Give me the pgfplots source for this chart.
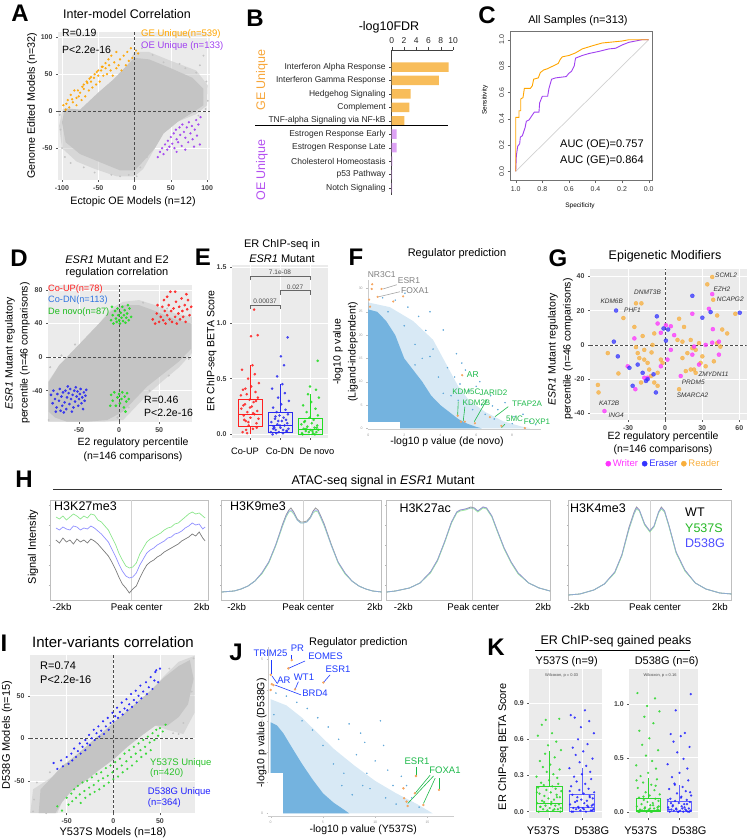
\documentclass[border=0pt]{standalone}
\usepackage{fontspec}
\setmainfont{Liberation Sans}
\usepackage{pgfplots}
\pgfplotsset{compat=1.18}
\usepackage{pgfplotstable}
\newcommand{\fs}[1]{\fontsize{#1}{#1}\selectfont}
\definecolor{ggbg}{HTML}{EBEBEB}
\definecolor{ptg}{HTML}{C4C4C4}
\definecolor{Aor}{HTML}{FFA500}
\definecolor{Apu}{HTML}{A040F0}
\definecolor{Bor}{HTML}{F8BD5A}
\definecolor{Bpu}{HTML}{DDA2F4}
\definecolor{Btor}{HTML}{F7A63A}
\definecolor{Btpu}{HTML}{B450F0}
\definecolor{Dred}{HTML}{FF2020}
\definecolor{Dblue}{HTML}{2B2BF0}
\definecolor{Dbluet}{HTML}{2F74E0}
\definecolor{Dgreen}{HTML}{22DD22}
\definecolor{Fblue}{HTML}{62A8D8}
\definecolor{Fbl}{HTML}{74B3DF}
\definecolor{Flab}{HTML}{1DB94A}
\definecolor{Gpink}{HTML}{FF33FF}
\definecolor{Gblue}{HTML}{3333FF}
\definecolor{Gor}{HTML}{F8AE3C}
\definecolor{Hgreen}{HTML}{8CE68C}
\definecolor{Hblue}{HTML}{9090FF}
\definecolor{Hgray}{HTML}{7A7A7A}
\definecolor{Iblue}{HTML}{1F1FFF}
\definecolor{Igreen}{HTML}{2ED82E}
\definecolor{Jblue}{HTML}{1F3BFF}
\definecolor{Jor}{HTML}{F4A460}

\pgfplotsset{
  /pgf/number format/assume math mode=true,
  gg/.style={scale only axis, anchor=south west, axis background/.style={fill=ggbg},
    axis line style={draw=none}, grid=major, grid style={white, line width=0.6pt},
    tick align=outside, major tick length=2pt, tick style={black!65, line width=0.4pt},
    tick pos=left, ticklabel style={font=\fs{7}\bfseries, text=black!75}},
  onedec/.style={#1 tick label style={/pgf/number format/fixed, /pgf/number format/fixed zerofill, /pgf/number format/precision=1}},
  hsub/.style={scale only axis, anchor=south west, height=100pt, ymin=0, ymax=100,
    axis line style={gray!50, line width=0.5pt}, xtick=\empty, ytick={15,35,55,75,95},
    yticklabels={}, tick style={gray!60, line width=0.3pt}, major tick length=1.5pt,
    tick align=outside, ytick pos=left},
  pt/.style n args={2}{only marks, mark=*, mark size=#2, color=#1, mark options={solid}},
  bx/.style={line width=0.6pt, mark=none},
}

\pgfplotstableread{
j r b g
-0.31 0.02 0.00 0.00
0.12 0.05 0.01 0.01
-0.05 0.08 0.02 0.02
0.27 0.10 0.03 0.02
-0.18 0.12 0.04 0.03
0.35 0.14 0.05 0.04
0.02 0.15 0.06 0.04
-0.26 0.17 0.07 0.05
0.19 0.18 0.08 0.06
-0.11 0.20 0.09 0.07
0.30 0.21 0.10 0.08
-0.36 0.23 0.11 0.09
0.07 0.25 0.12 0.10
-0.21 0.27 0.14 0.12
0.15 0.29 0.15 0.13
-0.02 0.31 0.17 0.15
0.33 0.33 0.18 0.17
-0.14 0.36 0.20 0.20
0.23 0.38 0.22 0.23
-0.29 0.40 0.24 0.26
0.05 0.43 0.27 0.29
0.37 0.46 0.30 0.33
-0.08 0.50 0.33 0.36
0.20 0.54 0.37 0.00
-0.33 0.58 0.41 0.01
0.10 0.62 0.45 0.03
-0.16 0.04 0.01 0.05
0.28 0.06 0.03 0.06
-0.24 0.13 0.06 0.11
0.00 0.24 0.08 0.43
0.25 0.30 0.13 0.40
-0.38 0.35 0.02 nan
0.13 0.19 0.04 nan
-0.07 0.11 0.12 nan
0.32 0.89 0.87 0.66
-0.19 0.41 0.16 nan
0.04 0.88 0.70 nan
-0.28 0.26 0.05 nan
0.17 1.12 0.62 nan
-0.12 0.01 0.52 nan
}\Etab

\pgfplotstableread{
j ag ab bg bb
-0.31 0.00 0.00 0.00 0.00
0.12 0.01 0.00 0.00 0.00
-0.05 0.01 0.01 0.00 0.00
0.27 0.02 0.01 0.01 0.00
-0.18 0.02 0.02 0.01 0.01
0.35 0.03 0.02 0.01 0.01
0.02 0.03 0.03 0.02 0.01
-0.26 0.04 0.03 0.02 0.02
0.19 0.05 0.04 0.03 0.02
-0.11 0.05 0.04 0.03 0.03
0.30 0.06 0.05 0.04 0.03
-0.36 0.07 0.06 0.05 0.04
0.07 0.08 0.07 0.06 0.05
-0.21 0.09 0.08 0.07 0.06
0.15 0.10 0.09 0.08 0.07
-0.02 0.11 0.10 0.09 0.08
0.33 0.12 0.11 0.10 0.09
-0.14 0.13 0.12 0.11 0.10
0.23 0.14 0.13 0.12 0.11
-0.29 0.15 0.14 0.13 0.12
0.05 0.16 0.15 0.15 0.13
0.37 0.17 0.16 0.16 0.15
-0.08 0.18 0.18 0.18 0.17
0.20 0.19 0.19 0.20 0.19
-0.33 0.20 0.21 0.22 0.21
0.10 0.21 0.23 0.25 0.23
-0.16 0.22 0.25 0.27 0.26
0.28 0.23 0.27 0.30 0.29
-0.24 0.24 0.29 0.33 0.32
0.00 0.26 0.31 0.36 0.36
0.25 0.28 0.33 0.40 0.40
-0.38 0.29 0.36 0.43 0.44
0.13 0.31 0.38 0.47 0.49
-0.07 0.33 0.41 0.52 0.55
0.32 0.35 0.44 0.57 0.60
-0.19 0.37 0.47 0.62 0.65
0.04 0.39 0.50 0.68 0.70
-0.28 0.42 0.53 0.75 0.72
0.17 0.45 0.56 0.82 0.73
-0.12 0.48 0.60 0.88 0.94
0.36 0.51 0.65 0.93 1.09
-0.03 0.55 0.70 0.98 0.00
0.22 0.58 0.75 1.05 0.01
-0.34 0.63 0.80 1.10 0.02
0.09 0.65 0.84 0.00 0.03
-0.22 0.72 0.78 0.01 0.05
0.31 0.77 0.01 0.02 0.00
-0.10 0.76 0.03 0.04 0.02
0.16 0.02 0.05 0.06 0.04
-0.27 0.04 0.00 0.00 0.08
0.06 0.06 0.02 0.03 0.14
0.34 0.00 0.06 0.05 0.18
-0.15 0.08 0.09 0.14 0.25
0.24 0.12 0.12 0.24 0.07
-0.37 0.16 0.17 0.29 0.11
}\Ktab

\pgfplotstableread{
x g b w
-2.15 83 72 60
-2.05 81 70 57
-1.95 84 73 62
-1.85 80 71 58
-1.75 83 70 60
-1.65 86 74 56
-1.55 84 73 61
-1.45 81 70 58
-1.35 84 72 60
-1.25 82 71 57
-1.15 86 74 61
-1.05 85 72 59
-0.95 80 69 56
-0.85 78 66 52
-0.75 74 62 48
-0.65 70 58 44
-0.55 63 51 38
-0.45 56 44 31
-0.35 47 36 23
-0.25 40 29 16
-0.15 34 24 12
-0.05 32 22 7
0.05 33 23 11
0.15 37 27 14
0.25 46 35 22
0.35 52 41 29
0.45 58 47 35
0.55 61 50 38
0.65 63 52 40
0.75 65 55 43
0.85 67 57 45
0.95 70 59 48
1.05 72 62 50
1.15 73 63 52
1.25 76 66 54
1.35 77 67 56
1.45 80 69 59
1.55 83 72 61
1.65 86 74 63
1.75 88 77 66
1.85 86 75 64
1.95 87 76 68
2.05 84 71 62
2.12 82 73 59
}\Hone

\pgfplotstableread{
x w g b
-2.36 8 8 8
-2.0 9 9 9
-1.8 11 11 11
-1.6 14 14 14
-1.4 19 19 19
-1.2 27 26 27
-1.0 38 37 38
-0.8 55 54 55
-0.6 76 74 75
-0.5 85 83 84
-0.42 90 88 89
-0.36 92 89 90
-0.28 88 86 87
-0.18 81 80 80
-0.08 78 77 77
0 78 77 77
0.1 79 78 78
0.2 83 82 82
0.28 89 87 88
0.35 92 89 90
0.42 90 88 89
0.5 84 82 83
0.6 76 74 75
0.8 56 55 55
1.0 38 37 38
1.2 27 26 27
1.4 19 19 19
1.6 14 14 14
1.8 11 11 11
2.0 9 9 9
2.26 8 8 8
}\Htwo

\pgfplotstableread{
x w g b
-2.45 8 8 8
-2.2 9 9 9
-1.8 12 12 12
-1.5 17 17 17
-1.2 28 27 28
-1.0 40 39 40
-0.8 58 57 58
-0.6 78 77 78
-0.45 88 87 88
-0.35 90 89 90
-0.2 91 90 91
-0.05 93 92 92
0.05 92 91 92
0.15 89 88 89
0.3 93 92 93
0.4 92 91 92
0.55 84 83 84
0.7 70 69 70
0.9 52 51 52
1.1 38 37 38
1.3 27 26 27
1.6 17 17 17
1.9 12 12 12
2.21 9 9 9
}\Hthree

\pgfplotstableread{
x w g b
-2.33 5 5 5
-2.0 6 6 6
-1.6 10 10 10
-1.3 16 16 16
-1.0 28 27 28
-0.8 45 44 45
-0.6 72 70 71
-0.45 88 86 87
-0.38 93 91 92
-0.3 90 89 90
-0.15 76 75 76
0 69 68 69
0.12 74 73 74
0.25 88 87 88
0.33 93 91 92
0.42 89 88 89
0.55 74 73 74
0.75 48 47 48
1.0 30 29 30
1.3 17 17 17
1.6 11 11 11
2.0 7 7 7
2.34 6 6 6
}\Hfour

\begin{document}
\begin{tikzpicture}[x=1pt,y=1pt]
\path[use as bounding box] (0,0) rectangle (749,840);

% ================= A =================
\begin{axis}[gg, at={(58pt,660pt)}, width=152pt, height=148pt,
  xmin=-105.5, xmax=104, ymin=-93, ymax=107, xtick={-100,-50,0,50,100}, ytick={-50,0,50,100}]
\addplot[fill=ptg, fill opacity=0.5, draw=none] coordinates {(-104,-20) (-99,3) (-75,2) (-50,25) (-30,42) (-10,62) (0,80) (20,80) (50,68) (85,55) (101,35) (100,8) (85,-4) (60,-14) (40,-30) (28,-50) (12,-78) (0,-88) (-25,-88) (-55,-78) (-80,-68) (-100,-50)};
\addplot[fill=ptg, draw=none] coordinates {(-100,-15) (-96,4) (-75,2) (-50,25) (-30,42) (-10,62) (0,72) (20,70) (50,58) (80,45) (95,30) (95,8) (80,-2) (60,-14) (40,-30) (28,-50) (10,-70) (0,-80) (-20,-80) (-50,-68) (-75,-58) (-95,-42)};
\addplot[pt={ptg}{0.7pt}] coordinates {(90,62) (95,75) (85,52) (70,58) (62,64) (93,18) (98,3) (-100,-50) (-96,-62) (-88,-70) (-70,-76) (-55,-83) (-32,-86) (-8,-86) (8,-76) (17,-62) (25,-47) (40,66) (25,76) (10,85) (-102,-25) (-103,-5) (99,40) (88,-6) (101,14) (3,-88) (-20,-88)};
\addplot[pt={Aor}{0.95pt}, opacity=0.85] coordinates {(-98,8) (-95,2) (-92,15) (-90,5) (-88,22) (-85,12) (-83,28) (-80,8) (-80,18) (-78,28) (-75,25) (-73,15) (-72,33) (-70,30) (-68,20) (-66,40) (-65,38) (-63,28) (-60,46) (-60,40) (-58,32) (-56,45) (-55,50) (-53,36) (-50,48) (-50,55) (-48,40) (-46,55) (-45,60) (-43,48) (-40,58) (-40,65) (-38,50) (-35,62) (-33,55) (-32,75) (-30,48) (-28,66) (-25,58) (-25,80) (-22,62) (-20,70) (-18,55) (-15,75) (-12,62) (-10,80) (-8,68) (-5,85) (-3,72) (2,82) (5,78) (-36,70) (-44,60) (-52,53) (-62,44) (-70,36) (-77,20) (-86,16) (-94,10)};
\addplot[pt={Apu}{0.95pt}, opacity=0.85] coordinates {(32,-62) (35,-55) (38,-50) (40,-58) (42,-45) (45,-52) (46,-40) (48,-48) (50,-35) (52,-44) (54,-30) (55,-50) (57,-25) (58,-38) (60,-42) (62,-22) (63,-32) (65,-47) (66,-18) (68,-28) (70,-36) (72,-22) (74,-42) (75,-15) (77,-30) (79,-20) (80,-38) (83,-25) (85,-12) (86,-33) (88,-18) (90,-45) (91,-8) (70,-52) (58,-55) (82,-48)};
\draw[densely dashed, black!70, line width=0.5pt] (axis cs:0,-93) -- (axis cs:0,107);
\draw[densely dashed, black!70, line width=0.5pt] (axis cs:-105.5,0) -- (axis cs:104,0);
\end{axis}
\node[font=\fs{24}\bfseries] at (20,827) {A};
\node[font=\fs{12.5}] at (127,826) {Inter-model Correlation};
\node[font=\fs{10.5}, anchor=west, inner sep=0pt] at (62,807) {R=0.19};
\node[font=\fs{10.5}, anchor=west, inner sep=0pt] at (62,790) {P<2.2e-16};
\node[font=\fs{9.5}, anchor=west, inner sep=0pt, text=Aor] at (141,806) {GE Unique(n=539)};
\node[font=\fs{9.5}, anchor=west, inner sep=0pt, text=Apu] at (141,794) {OE Unique (n=133)};
\node[font=\fs{10.7}, rotate=90] at (32,734) {Genome Edited Models (n=32)};
\node[font=\fs{10.7}] at (133,638) {Ectopic OE Models (n=12)};

% ================= B =================
\begin{axis}[scale only axis, anchor=south west, at={(391.7pt,645.3pt)}, width=61.3pt, height=144.7pt,
  xmin=0, xmax=10, ymin=-10.5, ymax=0.27, axis x line*=top, axis y line*=left,
  axis line style={black!75, line width=0.5pt}, xtick={0,2,4,6,8,10}, ytick={-10,-9,...,-1},
  yticklabels={Notch Signaling, p53 Pathway, Cholesterol Homeostasis, Estrogen Response Late, Estrogen Response Early, TNF-alpha Signaling via NF-kB, Complement, Hedgehog Signaling, Interferon Gamma Response, Interferon Alpha Response},
  tick align=outside, major tick length=2.5pt, tick style={black!75},
  ticklabel style={font=\fs{8.5}, text=black!85}]
\addplot[xbar, bar width=9.5pt, bar shift=0pt, fill=Bor, draw=none] coordinates {(9.3,-1) (7.7,-2) (3.1,-3) (2.9,-4) (2.05,-5)};
\addplot[xbar, bar width=9.5pt, bar shift=0pt, fill=Bpu, draw=none] coordinates {(0.8,-6) (0.8,-7) (0.1,-8) (0.05,-9) (0.05,-10)};
\end{axis}
\node[font=\fs{24}\bfseries] at (255,822) {B};
\node[font=\fs{12.5}] at (389,813) {-log10FDR};
\node[font=\fs{12.5}, rotate=90, text=Btor] at (262,760) {GE Unique};
\node[font=\fs{12.5}, rotate=90, text=Btpu] at (262,670) {OE Unique};
\draw[black, line width=0.8pt] (255,715) -- (448,715);

% ================= C =================
\begin{axis}[at={(510.7pt,660pt)}, anchor=south west, scale only axis, width=142pt, height=148.3pt,
  x dir=reverse, xmin=-0.03, xmax=1.0376, ymin=-0.066, ymax=1.061,
  xtick={0,0.2,0.4,0.6,0.8,1}, ytick={0,0.2,0.4,0.6,0.8,1}, tick pos=left, tick align=outside,
  major tick length=3pt, axis line style={black!55, line width=0.5pt}, tick style={black!60},
  ticklabel style={font=\fs{7}, text=black!80}, onedec=x, onedec=y,
  yticklabel style={rotate=90, anchor=south}]
\addplot[black!18, line width=0.7pt] coordinates {(1,0) (0,1)};
\addplot[Apu, line width=0.9pt] coordinates {(1,0) (0.995,0.12) (0.985,0.19) (0.97,0.21) (0.965,0.26) (0.95,0.27) (0.93,0.33) (0.92,0.38) (0.9,0.39) (0.88,0.42) (0.86,0.45) (0.825,0.45) (0.82,0.52) (0.8,0.57) (0.76,0.57) (0.75,0.63) (0.73,0.70) (0.7,0.71) (0.62,0.72) (0.6,0.745) (0.58,0.76) (0.56,0.80) (0.55,0.86) (0.5,0.88) (0.45,0.895) (0.38,0.91) (0.3,0.93) (0.25,0.935) (0.2,0.96) (0.15,0.98) (0.1,0.99) (0.05,1.0) (0,1.0)};
\addplot[Aor, line width=0.9pt] coordinates {(1,0) (1,0.41) (0.975,0.41) (0.975,0.46) (0.962,0.46) (0.962,0.55) (0.945,0.56) (0.935,0.63) (0.89,0.63) (0.875,0.65) (0.865,0.70) (0.83,0.71) (0.815,0.75) (0.79,0.77) (0.76,0.78) (0.72,0.80) (0.68,0.82) (0.665,0.85) (0.65,0.87) (0.6,0.88) (0.55,0.90) (0.5,0.93) (0.42,0.955) (0.35,0.975) (0.2,0.99) (0.15,1.0) (0,1)};
\end{axis}
\node[font=\fs{24}\bfseries] at (487,825) {C};
\node[font=\fs{11}] at (578,819) {All Samples (n=313)};
\node[font=\fs{11}, anchor=west, inner sep=0pt] at (560,695) {AUC (OE)=0.757};
\node[font=\fs{11}, anchor=west, inner sep=0pt] at (560,679) {AUC (GE)=0.864};
\node[font=\fs{6.5}] at (580,634) {Specificity};
\node[font=\fs{6.5}, rotate=90] at (485,740) {Sensitivity};

% ================= D =================
\begin{axis}[gg, at={(48pt,418.3pt)}, width=144pt, height=136.7pt,
  xmin=-88.75, xmax=91, ymin=-77, ymax=86, xtick={-50,0,50}, ytick={-40,0,40,80}]
\addplot[fill=ptg, fill opacity=0.5, draw=none] coordinates {(-89,-77) (-89,-30) (-75,-10) (-60,5) (-40,25) (-25,40) (-10,58) (5,66) (25,68) (45,62) (70,52) (91,48) (91,5) (75,-12) (55,-28) (35,-45) (20,-60) (5,-75) (-20,-77)};
\addplot[fill=ptg, draw=none] coordinates {(-88,-65) (-88,-30) (-75,-10) (-60,5) (-40,25) (-25,40) (-10,55) (5,62) (25,62) (45,55) (70,45) (90,40) (90,10) (75,-5) (55,-20) (35,-35) (20,-50) (5,-65) (-15,-75) (-40,-77) (-65,-77) (-80,-72)};
\addplot[pt={ptg}{0.8pt}] coordinates {(-88,-75) (-86,-12) (-72,2) (-55,15) (88,50) (87,-2) (62,-22) (38,-40) (12,-60) (-2,-72) (-28,-80) (-50,-80) (60,58) (30,65) (75,30) (-80,-40)};
\addplot[pt={Dred}{1.15pt}, opacity=0.85] coordinates {(42,45) (45,40) (47,52) (50,42) (52,48) (54,60) (55,44) (57,55) (58,40) (60,50) (62,62) (63,45) (65,55) (66,42) (68,58) (70,48) (71,66) (72,40) (74,52) (75,60) (76,45) (78,70) (79,55) (80,48) (82,62) (83,42) (85,57) (86,68) (88,50) (84,75) (70,78) (64,78) (56,68) (48,62) (90,60) (60,72)};
\addplot[pt={Dblue}{1.15pt}, opacity=0.85] coordinates {(-85,-45) (-83,-55) (-82,-40) (-80,-50) (-78,-60) (-77,-44) (-75,-52) (-74,-38) (-72,-47) (-71,-58) (-70,-42) (-68,-54) (-67,-40) (-66,-62) (-65,-48) (-63,-43) (-62,-56) (-61,-38) (-60,-50) (-58,-45) (-57,-60) (-56,-40) (-55,-53) (-53,-47) (-52,-41) (-51,-58) (-50,-50) (-49,-44) (-48,-38) (-47,-55) (-46,-48) (-45,-62) (-44,-42) (-43,-52) (-42,-46) (-41,-39) (-79,-65) (-69,-66) (-59,-65) (-64,-35) (-54,-36) (-73,-64)};
\addplot[pt={Dgreen}{1.15pt}, opacity=0.85] coordinates {(-10,44) (-8,50) (-7,40) (-5,55) (-4,46) (-3,42) (-2,58) (-1,50) (0,44) (1,40) (2,53) (3,47) (4,60) (5,43) (6,50) (7,56) (8,41) (9,47) (10,52) (12,44) (13,58) (15,48) (11,62) (-9,60) (-10,-45) (-8,-52) (-6,-42) (-4,-58) (-2,-48) (0,-44) (1,-55) (3,-50) (4,-42) (6,-60) (7,-47) (9,-53) (10,-43) (12,-50) (-11,-58) (8,-65)};
\draw[densely dashed, black!70, line width=0.5pt] (axis cs:0,-77) -- (axis cs:0,86);
\draw[densely dashed, black!70, line width=0.5pt] (axis cs:-88.75,0) -- (axis cs:91,0);
\end{axis}
\node[font=\fs{24}\bfseries] at (19,582) {D};
\node[font=\fs{11}] at (117,580) {\textit{ESR1} Mutant and E2};
\node[font=\fs{11}] at (117,567) {regulation correlation};
\node[font=\fs{9.2}, anchor=west, inner sep=0pt, text=Dred] at (48,551) {Co-UP(n=78)};
\node[font=\fs{9.2}, anchor=west, inner sep=0pt, text=Dbluet] at (48,540) {Co-DN(n=113)};
\node[font=\fs{9.2}, anchor=west, inner sep=0pt, text=Dgreen!85!black] at (48,528) {De novo(n=87)};
\node[font=\fs{10.5}, anchor=west, inner sep=0pt] at (144,440) {R=0.46};
\node[font=\fs{10.5}, anchor=west, inner sep=0pt] at (144,427) {P<2.2e-16};
\node[font=\fs{10.5}, rotate=90] at (10,487) {\textit{ESR1} Mutant regulatory};
\node[font=\fs{10.5}, rotate=90] at (25,487) {percentile (n=46 comparisons)};
\node[font=\fs{10.5}] at (133,397.3) {E2 regulatory percentile};
\node[font=\fs{10.5}] at (133,383.3) {(n=146 comparisons)};

% ================= E =================
\begin{axis}[gg, at={(232pt,402.3pt)}, width=96pt, height=172.7pt,
  xmin=0.4, xmax=3.6, ymin=-0.03, ymax=1.52, xtick={1,2,3}, xticklabels={}, ytick={0,0.5,1,1.5}, onedec=y]
\addplot[pt={Dred}{1.1pt}, opacity=0.8] table[x expr=\thisrow{j}*0.8+1, y=r] {\Etab};
\addplot[pt={Dblue}{1.1pt}, opacity=0.8] table[x expr=\thisrow{j}*0.8+2, y=b] {\Etab};
\addplot[pt={Dgreen}{1.1pt}, opacity=0.8] table[x expr=\thisrow{j}*0.8+3, y=g] {\Etab};
\addplot[bx, Dred] coordinates {(0.6,0.068) (1.4,0.068) (1.4,0.316) (0.6,0.316) (0.6,0.068)};
\addplot[bx, Dred] coordinates {(0.6,0.18) (1.4,0.18)};
\addplot[bx, Dred] coordinates {(1,0.316) (1,0.62)};
\addplot[bx, Dred] coordinates {(1,0.068) (1,0)};
\addplot[bx, Dblue] coordinates {(1.6,0.015) (2.4,0.015) (2.4,0.2) (1.6,0.2) (1.6,0.015)};
\addplot[bx, Dblue] coordinates {(1.6,0.083) (2.4,0.083)};
\addplot[bx, Dblue] coordinates {(2,0.2) (2,0.45)};
\addplot[bx, Dgreen] coordinates {(2.6,0) (3.4,0) (3.4,0.143) (2.6,0.143) (2.6,0)};
\addplot[bx, Dgreen] coordinates {(2.6,0.045) (3.4,0.045)};
\addplot[bx, Dgreen] coordinates {(3,0.143) (3,0.36)};
\draw[black!60, line width=0.5pt] (axis cs:1,1.385) -- (axis cs:1,1.42) -- (axis cs:3,1.42) -- (axis cs:3,1.385);
\node[font=\fs{6.5}, text=black!70, anchor=south, inner sep=1pt] at (axis cs:2,1.42) {7.1e-08};
\draw[black!60, line width=0.5pt] (axis cs:2,1.255) -- (axis cs:2,1.29) -- (axis cs:3,1.29) -- (axis cs:3,1.255);
\node[font=\fs{6.5}, text=black!70, anchor=south, inner sep=1pt] at (axis cs:2.5,1.29) {0.027};
\draw[black!60, line width=0.5pt] (axis cs:1,1.125) -- (axis cs:1,1.16) -- (axis cs:2,1.16) -- (axis cs:2,1.125);
\node[font=\fs{6.5}, text=black!70, anchor=south, inner sep=1pt] at (axis cs:1.5,1.16) {0.00037};
\end{axis}
\node[font=\fs{24}\bfseries] at (203,582.5) {E};
\node[font=\fs{11}] at (282,595) {ER ChIP-seq in};
\node[font=\fs{11}] at (282,581.7) {\textit{ESR1} Mutant};
\node[font=\fs{10.5}, rotate=90] at (211.7,489) {ER ChIP-seq BETA Score};
\node[font=\fs{9.3}] at (245,389) {Co-UP};
\node[font=\fs{9.3}] at (280,389) {Co-DN};
\node[font=\fs{9.3}] at (317,389) {De novo};

% ================= F =================
\begin{axis}[scale only axis, anchor=south west, at={(367.7pt,411pt)}, width=173.3pt, height=148.9pt,
  xmin=-0.03, xmax=9.6, ymin=-0.15, ymax=31.8, axis lines*=left, axis line style={gray!40},
  xtick={0,2,4,6,8}, ytick={0,5,10,15,20,25,30}, tick style={gray!50}, major tick length=1.5pt,
  tick align=outside, ticklabel style={font=\fs{3.5}, text=gray!80}]
\addplot[fill=Fblue, fill opacity=0.25, draw=none] coordinates {(0,27) (1.2,26) (2.5,23) (3.6,19) (4.3,14) (5,9) (5.6,6) (6.5,3.5) (7.5,1.5) (8.5,0.4) (9,0) (0,0)};
\addplot[fill=Fbl, draw=none] coordinates {(0,0) (0,25.5) (0.5,25) (1.0,23) (1.5,20) (2.0,15) (3.0,10) (3.5,7) (4.0,5) (4.5,3.5) (5.0,2) (5.5,1) (6,0.3) (6.3,0)};
\addplot[fill=white, draw=none] coordinates {(-0.03,-0.15) (1.76,-0.15) (1.76,1.3) (-0.03,1.3)};
\addplot[pt={Fblue}{0.55pt}] coordinates {(2.04,29) (3.43,25) (4.17,21.1) (3.43,15.4) (2.6,13.6) (4.17,7.5) (3.2,21) (3.6,17) (4.4,13) (4.8,11) (5.2,14) (5.6,8) (6.0,9) (6.3,5) (6.8,7) (7.2,4) (7.6,5.5) (8.1,2.5) (8.6,3) (9.0,1.5) (2.8,24) (2.2,26) (1.5,27.5) (0.8,28) (5.0,6) (5.8,4) (4.6,7) (3.9,11) (7.0,2) (8.0,1) (3.0,15) (2.6,18) (6.5,3) (9.3,0.8) (4.9,16) (5.4,12.5) (6.2,10) (2.0,22) (1.1,25) (5.1,9.5) (6.9,4.8)};
\addplot[pt={Jor}{0.9pt}] coordinates {(0.1,26.1) (0.05,27.6) (0.19,29.9) (0.22,30.9) (0.74,29.9) (0.52,28.2) (1.39,27.2) (1.94,28.3) (5.22,11.4) (4.97,2.7) (5.15,1.42) (5.37,1.42) (5.93,1.07) (6.76,2.4) (7.4,0.5) (8.7,0.05)};
\draw[gray!70, line width=0.6pt] (axis cs:0.83,29.9) -- (axis cs:1.58,30.8);
\draw[gray!70, line width=0.6pt] (axis cs:0.56,28.2) -- (axis cs:1.76,29.3);
\draw[Flab, line width=0.6pt] (axis cs:5.0,5.71) -- (axis cs:4.97,2.85);
\draw[Flab, line width=0.6pt] (axis cs:5.37,4.64) -- (axis cs:5.28,1.57);
\draw[Flab, line width=0.6pt] (axis cs:6.58,6.07) -- (axis cs:5.89,1.42);
\draw[Flab, line width=0.6pt] (axis cs:7.78,4.64) -- (axis cs:7.04,2.49);
\draw[Flab, line width=0.6pt] (axis cs:7.59,0.86) -- (axis cs:7.41,0.13);
\end{axis}
\node[font=\fs{24}\bfseries] at (356,582.5) {F};
\node[font=\fs{11}] at (457,586.7) {Regulator prediction};
\node[font=\fs{8.5}, text=gray] at (381.7,565) {NR3C1};
\node[font=\fs{8.5}, text=gray] at (409,559.3) {ESR1};
\node[font=\fs{8.5}, text=gray] at (415,549.3) {FOXA1};
\node[font=\fs{8.5}, text=Flab, anchor=west, inner sep=0pt] at (466.7,465.7) {AR};
\begin{scope}[font=\fs{8}, text=Flab, inner sep=0pt]
\node at (466.3,448.6) {KDM5C};
\node at (493.5,447) {JARID2};
\node at (476.5,437.5) {KDM2B};
\node at (527,436.7) {TFAP2A};
\node at (514.5,421.7) {5MC};
\node at (537,418.3) {FOXP1};
\end{scope}
\node[font=\fs{10.5}, rotate=90] at (338,488) {-log10 p value};
\node[font=\fs{10.5}, rotate=90] at (353,488) {(Ligand-independent)};
\node[font=\fs{10.5}] at (447,398.3) {-log10 p value (de novo)};

% ================= G =================
\begin{axis}[gg, at={(590pt,420pt)}, width=156.7pt, height=150.7pt,
  xmin=-60.8, xmax=66, ymin=-43.9, ymax=44.2, xtick={-30,0,30,60}, ytick={-40,-20,0,20,40},
  legend columns=3, legend cell align=left,
  legend style={at={(axis description cs:0.47,-0.29)}, anchor=center, draw=none, fill=none, font=\fs{9.5}, inner sep=0pt, /tikz/every even column/.append style={column sep=2pt}}]
\addlegendimage{only marks, mark=*, mark size=2.6pt, color=Gpink}
\addlegendentry{\textcolor{Gpink}{Writer}}
\addlegendimage{only marks, mark=*, mark size=2.6pt, color=Gblue}
\addlegendentry{\textcolor{Gblue}{Eraser}}
\addlegendimage{only marks, mark=*, mark size=2.6pt, color=Gor}
\addlegendentry{\textcolor{Gor}{Reader}}
\addplot[forget plot, pt={Gor}{2pt}, opacity=0.75] coordinates {(38.1,39.7) (34.1,35.4) (38.9,26.4) (-23.6,24.3) (-19.2,24.3) (-33.8,15.7) (42.1,17.2) (56.8,18.2) (11.3,15.3) (15.3,10.5) (46.2,9.0) (50.2,6.7) (-24.9,10.5) (-18.2,5.2) (-8.8,6.7) (-46.4,-4.8) (-37.8,-16.7) (-54.4,-23.4) (-53.9,-27.8) (-23.6,-1.3) (-22.2,-4.8) (-20.9,-7.7) (-16.9,-8.6) (-14.2,-10.5) (-12.9,-14.4) (-11.5,-18.2) (-8.8,-22.0) (-6.1,-23.9) (-6.1,-16.3) (-3.5,-8.6) (-2.1,-10.5) (-11.0,-4.4) (10.0,2.9) (14.0,1.9) (20.7,2.9) (22.0,-1.9) (24.7,-2.9) (27.4,1.0) (30.1,-6.7) (14.0,-7.7) (18.0,-4.8) (28.7,-10.5) (32.8,-12.5) (23.4,-14.4) (16.7,-15.3) (20.7,-14.4) (42.1,1.0) (44.7,-1.0) (39.4,-9.6) (24.7,-16.3) (11.3,-25.9) (-19.5,-22.0) (-10.2,0) (-16.9,-2.9)};
\addplot[forget plot, pt={Gpink}{2pt}, opacity=0.75] coordinates {(38.1,29.7) (35.4,21.1) (22.0,18.2) (38.6,9.2) (43.5,1.9) (38.1,1.3) (-6.1,12.5) (0.6,11.5) (-3.5,7.1) (4.6,10.9) (-24.9,3.8) (-16.9,-19.2) (-3.5,-12.5) (1.9,-8.6) (4.6,-2.9) (23.4,-1.0) (22.0,-5.7) (43.5,-5.7) (32.8,0) (12.6,-18.2) (-24.1,-25.9) (-30.3,-12.5) (-14.2,-19.2) (27.4,-11.5) (7.3,5.7) (-49.1,-38.7)};
\addplot[forget plot, pt={Gblue}{2pt}, opacity=0.75] coordinates {(22.0,28.7) (-39.7,20.1) (-6.7,16.7) (30.1,15.9) (36.8,19.2) (60.4,18.8) (-1.3,9.6) (2.4,9.0) (0.6,2.5) (-41.5,1.9) (-38.3,-6.7) (-28.9,-13.4) (-22.2,-11.5) (-18.2,-16.3) (-14.2,-20.1) (-9.4,-17.2) (-15.5,-21.1) (-26.3,-23.9) (-7.5,-27.8)};
\draw[densely dashed, black!70, line width=0.5pt] (axis cs:0,-43.9) -- (axis cs:0,44.2);
\draw[densely dashed, black!70, line width=0.5pt] (axis cs:-60.8,0) -- (axis cs:66,0);
\end{axis}
\node[font=\fs{24}\bfseries] at (558,582) {G};
\node[font=\fs{12.5}] at (665,584) {Epigenetic Modifiers};
\node[font=\fs{10.5}, rotate=90] at (553,491) {\textit{ESR1} Mutant regulatory};
\node[font=\fs{10.5}, rotate=90] at (568,491) {percentile (n=46 comparisons)};
\node[font=\fs{10.5}] at (663,403.3) {E2 regulatory percentile};
\node[font=\fs{10.5}] at (663,390) {(n=146 comparisons)};
\begin{scope}[font=\fs{6.5}\itshape, text=black!80, inner sep=0pt]
\node[anchor=west] at (715,565) {SCML2};
\node[anchor=west] at (713.3,551) {EZH2};
\node[anchor=west] at (716.7,540.7) {NCAPG2};
\node at (647.5,547.3) {DNMT3B};
\node at (611.7,538.3) {KDM6B};
\node at (632.5,530) {PHF1};
\node[anchor=west] at (698.3,466) {ZMYDN11};
\node[anchor=west] at (681.7,457.7) {PRDM5};
\node[anchor=west] at (676.7,444.3) {SMARCA2};
\node at (609.2,436.7) {KAT2B};
\node[anchor=west] at (608.3,424.3) {ING4};
\end{scope}

% ================= H =================
\node[font=\fs{24}\bfseries] at (24,361) {H};
\node[font=\fs{12.5}] at (383,358.3) {ATAC-seq signal in \textit{ESR1} Mutant};
\draw[black!80, line width=0.8pt] (53,351) -- (721.7,351);
\begin{axis}[hsub, at={(50pt,240pt)}, width=158.3pt, xmin=-2.32, xmax=2.21]
\draw[gray!35, line width=0.4pt] (axis cs:0,0) -- (axis cs:0,100);
\addplot[Hgreen, line width=0.7pt] table[x=x, y=g] {\Hone};
\addplot[Hblue, line width=0.7pt] table[x=x, y=b] {\Hone};
\addplot[Hgray, line width=0.7pt] table[x=x, y=w] {\Hone};
\end{axis}
\begin{axis}[hsub, at={(221.7pt,240pt)}, width=160pt, xmin=-2.36, xmax=2.26]
\draw[gray!35, line width=0.4pt] (axis cs:0,0) -- (axis cs:0,100);
\addplot[Hgray!80, line width=0.8pt] table[x=x, y=w] {\Htwo};
\addplot[Hgreen, line width=0.8pt, opacity=0.8] table[x=x, y=g] {\Htwo};
\addplot[Hblue, line width=0.8pt, opacity=0.6] table[x=x, y=b] {\Htwo};
\end{axis}
\begin{axis}[hsub, at={(386.7pt,240pt)}, width=163.3pt, xmin=-2.45, xmax=2.21]
\draw[gray!35, line width=0.4pt] (axis cs:0,0) -- (axis cs:0,100);
\addplot[Hgray!80, line width=0.8pt] table[x=x, y=w] {\Hthree};
\addplot[Hgreen, line width=0.8pt, opacity=0.8] table[x=x, y=g] {\Hthree};
\addplot[Hblue, line width=0.8pt, opacity=0.6] table[x=x, y=b] {\Hthree};
\end{axis}
\begin{axis}[hsub, at={(568.3pt,240pt)}, width=163.4pt, xmin=-2.33, xmax=2.34]
\draw[gray!35, line width=0.4pt] (axis cs:0,0) -- (axis cs:0,100);
\addplot[Hgray!80, line width=0.8pt] table[x=x, y=w] {\Hfour};
\addplot[Hgreen, line width=0.8pt, opacity=0.8] table[x=x, y=g] {\Hfour};
\addplot[Hblue, line width=0.8pt, opacity=0.6] table[x=x, y=b] {\Hfour};
\end{axis}
\begin{scope}[font=\fs{12.5}, inner sep=0pt]
\node[anchor=west] at (54,333.3) {H3K27me3};
\node[anchor=west] at (230,333.3) {H3K9me3};
\node[anchor=west] at (399.3,331.7) {H3K27ac};
\node[anchor=west] at (570,331.7) {H3K4me3};
\node[anchor=west] at (685,327.7) {WT};
\node[anchor=west, text=Igreen!85!black] at (685,311.7) {Y537S};
\node[anchor=west, text=Iblue!80] at (685,296.7) {D538G};
\end{scope}
\begin{scope}[font=\fs{9.7}]
\node at (62,232.7) {-2kb}; \node at (136.7,232.7) {Peak center}; \node at (201.7,232.7) {2kb};
\node at (236.7,232.7) {-2kb}; \node at (308.3,232.7) {Peak center}; \node at (375,232.7) {2kb};
\node at (403.3,232.7) {-2kb}; \node at (473.3,232.7) {Peak center}; \node at (543.3,232.7) {2kb};
\node at (580,232.7) {-2kb}; \node at (655,232.7) {Peak center}; \node at (720,232.7) {2kb};
\end{scope}
\node[font=\fs{11}, rotate=90] at (33,293) {Signal Intensity};

% ================= I =================
\begin{axis}[gg, at={(30pt,26.7pt)}, width=165pt, height=158.3pt,
  xmin=-89.3, xmax=87.5, ymin=-88.2, ymax=98, xtick={-50,0,50}, ytick={-50,0,50}]
\addplot[fill=ptg, fill opacity=0.5, draw=none] coordinates {(-89,-88) (-86,-60) (-65,-45) (-55,-33) (-40,-20) (-20,-1) (0,18) (20,37) (40,56) (55,74) (70,90) (87,97) (87,30) (75,5) (58,10) (45,15) (30,3) (15,-10) (0,-25) (-15,-37) (-30,-50) (-45,-62) (-55,-75) (-60,-88)};
\addplot[fill=ptg, draw=none] coordinates {(-80,-88) (-78,-60) (-65,-45) (-55,-33) (-40,-20) (-20,-1) (0,18) (20,37) (40,56) (55,72) (70,85) (82,92) (86,70) (80,40) (70,25) (58,15) (45,15) (30,3) (15,-10) (0,-25) (-15,-37) (-30,-50) (-45,-62) (-55,-75) (-62,-88)};
\addplot[pt={ptg}{0.7pt}] coordinates {(70,5) (75,18) (84,55) (86,94) (64,6) (-85,-72) (-82,-52) (-72,-88) (-86,-86) (78,62) (60,82) (-68,-40)};
\addplot[pt={Iblue}{0.9pt}, opacity=0.85] coordinates {(-64,-29) (-60,-36) (-56,-26) (-54,-33) (-50,-22) (-48,-30) (-45,-18) (-44,-26) (-42,-12) (-40,-22) (-38,-15) (-36,-6) (-35,-18) (-33,-10) (-30,-2) (-30,-14) (-28,-6) (-26,4) (-25,-8) (-23,0) (-21,10) (-20,-2) (-18,6) (-16,14) (-15,2) (-13,9) (-11,20) (-10,5) (-8,14) (-6,24) (-5,10) (-3,18) (-1,30) (0,20) (2,26) (4,36) (5,24) (7,31) (9,42) (10,28) (12,35) (14,46) (15,33) (17,40) (19,52) (20,37) (22,45) (24,56) (25,42) (27,50) (29,62) (30,47) (32,55) (35,66) (36,52) (38,60) (40,72) (42,58) (44,68) (46,80) (48,66) (50,82) (45,78)};
\addplot[pt={Igreen}{0.9pt}, opacity=0.85] coordinates {(-50,-70) (-48,-78) (-45,-65) (-44,-74) (-42,-60) (-40,-70) (-38,-56) (-36,-66) (-35,-76) (-33,-52) (-31,-62) (-30,-70) (-28,-50) (-26,-58) (-25,-66) (-23,-46) (-21,-55) (-20,-63) (-18,-42) (-16,-50) (-15,-60) (-13,-40) (-11,-47) (-10,-56) (-8,-35) (-6,-44) (-5,-52) (-3,-32) (-1,-40) (0,-48) (2,-28) (4,-36) (5,-45) (7,-24) (9,-32) (10,-40) (12,-18) (14,-27) (15,-36) (17,-14) (19,-22) (20,-32) (22,-10) (24,-18) (25,-27) (27,-6) (29,-14) (30,-22) (32,-2) (34,-10) (35,-18) (37,2) (39,-5) (40,-14) (42,6) (44,-2) (46,10) (48,3) (50,12) (53,8) (56,16) (-60,-80) (-55,-85)};
\draw[densely dashed, black!70, line width=0.5pt] (axis cs:0,-88.2) -- (axis cs:0,98);
\draw[densely dashed, black!70, line width=0.5pt] (axis cs:-89.3,0) -- (axis cs:87.5,0);
\end{axis}
\node[font=\fs{24}\bfseries] at (4,197) {I};
\node[font=\fs{15}] at (113,198.3) {Inter-variants correlation};
\node[font=\fs{11}, anchor=west, inner sep=0pt] at (40,174) {R=0.74};
\node[font=\fs{11}, anchor=west, inner sep=0pt] at (40,160.7) {P<2.2e-16};
\node[font=\fs{9.5}, anchor=west, inner sep=0pt, text=Igreen!90!black] at (150,77.3) {Y537S Unique};
\node[font=\fs{9.5}, anchor=west, inner sep=0pt, text=Igreen!90!black] at (150,66.7) {(n=420)};
\node[font=\fs{9.5}, anchor=west, inner sep=0pt, text=Iblue] at (147.7,48) {D538G Unique};
\node[font=\fs{9.5}, anchor=west, inner sep=0pt, text=Iblue] at (147.7,36.7) {(n=364)};
\node[font=\fs{11}, rotate=90] at (7,105) {D538G Models (n=15)};
\node[font=\fs{11}] at (113,7) {Y537S Models (n=18)};

% ================= J =================
\begin{axis}[scale only axis, anchor=south west, at={(268.1pt,23.6pt)}, width=185.5pt, height=169.6pt,
  xmin=-0.25, xmax=17.5, ymin=-0.1, ymax=5.4, axis lines*=left, axis line style={gray!40},
  xtick={0,5,10,15}, ytick={0,1,2,3,4,5}, tick style={gray!50}, major tick length=1.5pt,
  tick align=outside, ticklabel style={font=\fs{3.5}, text=gray!80}]
\addplot[fill=Fblue, fill opacity=0.25, draw=none] coordinates {(0,3.7) (1.5,3.5) (3,3.1) (4.5,2.6) (6,2.1) (8,1.55) (10,1.05) (12,0.65) (14,0.3) (15.5,0) (0,0)};
\addplot[fill=Fbl, draw=none] coordinates {(0,0) (0,2.95) (0.6,2.85) (1.2,2.6) (2,2.15) (3,1.6) (4,1.1) (5,0.65) (6,0.35) (7,0.12) (7.5,0)};
\addplot[fill=white, draw=none] coordinates {(-0.25,-0.1) (1.2,-0.1) (1.2,1.3) (-0.25,1.3)};
\addplot[pt={Fblue}{0.55pt}] coordinates {(7.5,2.9) (9.0,2.3) (10.5,3.0) (11.2,1.4) (8.2,1.9) (6.5,2.4) (5.5,2.8) (4.5,3.1) (12.5,1.2) (13.5,0.5) (7.0,1.3) (9.5,0.8) (11.0,0.5) (10.0,1.7) (8.8,0.9) (3.5,3.4) (2.5,3.6) (6.0,1.6) (12.0,0.3) (14.2,0.2) (5.0,2.2) (7.8,0.6) (9.2,1.3) (4.0,2.7) (3.0,3.0) (1.5,3.8) (0.5,3.9) (0.3,3.2) (11.7,0.9) (13.0,0.9) (10.8,2.2) (6.8,0.9) (8.6,2.6)};
\addplot[pt={Jor}{1pt}] coordinates {(0,4.49) (0.1,4.19) (0.26,4.16) (2.01,4.97) (1.69,4.70) (2.33,4.02) (5.04,4.24) (0,4.0) (13.9,1.21) (13.8,0.65) (13.0,0.38) (12.77,0.49) (13.1,0.24) (14.6,0.27) (16.1,0.76) (12.7,0.81)};
\draw[Jblue, line width=0.6pt] (axis cs:0.1,4.97) -- (axis cs:0.1,4.52);
\draw[Jblue, line width=0.6pt] (axis cs:0.13,4.45) -- (axis cs:0.65,4.2);
\draw[Jblue, line width=0.6pt] (axis cs:0.41,4.16) -- (axis cs:2.9,3.84);
\draw[Jblue, line width=0.6pt] (axis cs:2.33,4.02) -- (axis cs:2.65,4.27);
\draw[Jblue, line width=0.6pt] (axis cs:1.69,4.7) -- (axis cs:3.29,4.94);
\draw[Jblue, line width=0.6pt] (axis cs:2.01,4.97) -- (axis cs:2.01,5.14);
\draw[Jblue, line width=0.6pt] (axis cs:5.04,4.24) -- (axis cs:5.68,4.49);
\draw[Flab, line width=0.6pt] (axis cs:13.92,1.51) -- (axis cs:13.92,1.21);
\draw[Flab, line width=0.6pt] (axis cs:15.58,1.21) -- (axis cs:13.12,0.32);
\draw[Flab, line width=0.6pt] (axis cs:15.26,1.24) -- (axis cs:13.82,0.65);
\draw[Flab, line width=0.6pt] (axis cs:15.74,1.14) -- (axis cs:14.62,0.32);
\draw[Flab, line width=0.6pt] (axis cs:16.12,1.14) -- (axis cs:16.12,0.78);
\end{axis}
\node[font=\fs{24}\bfseries] at (236,187.5) {J};
\node[font=\fs{11}] at (358.3,197.7) {Regulator prediction};
\begin{scope}[font=\fs{9.5}, text=Jblue]
\node at (270.5,186.7) {TRIM25};
\node at (297.5,191.7) {PR};
\node at (325.5,183.3) {EOMES};
\node at (338,170.7) {ESR1};
\node at (304,162.7) {WT1};
\node at (284,160) {AR};
\node at (315,146.7) {BRD4};
\end{scope}
\node[font=\fs{9.5}, text=Flab] at (417,78.3) {ESR1};
\node[font=\fs{9.5}, text=Flab] at (445,69.3) {FOXA1};
\node[font=\fs{10.5}, rotate=90] at (261.7,107) {-log10 p value (D538G)};
\node[font=\fs{10.5}] at (363.3,10) {-log10 p value (Y537S)};

% ================= K =================
\begin{axis}[gg, at={(529.3pt,21.7pt)}, width=72.4pt, height=149pt,
  xmin=0.4, xmax=2.6, ymin=-0.055, ymax=1.18, xtick={1,2}, xticklabels={}, ytick={0,0.3,0.6,0.9}, onedec=y]
\addplot[pt={Igreen}{0.95pt}, opacity=0.8] table[x expr=\thisrow{j}+1, y=ag] {\Ktab};
\addplot[pt={Iblue}{0.95pt}, opacity=0.75] table[x expr=\thisrow{j}+2, y=ab] {\Ktab};
\addplot[bx, Igreen] coordinates {(0.61,0) (1.39,0) (1.39,0.21) (0.61,0.21) (0.61,0)};
\addplot[bx, Igreen] coordinates {(0.61,0.07) (1.39,0.07)};
\addplot[bx, Igreen] coordinates {(1,0.21) (1,0.5)};
\addplot[bx, Iblue!70] coordinates {(1.61,0) (2.39,0) (2.39,0.145) (1.61,0.145) (1.61,0)};
\addplot[bx, Iblue!70] coordinates {(1.61,0.04) (2.39,0.04)};
\addplot[bx, Iblue!70] coordinates {(2,0.145) (2,0.36)};
\end{axis}
\begin{axis}[gg, at={(629.3pt,21.7pt)}, width=69pt, height=149pt,
  xmin=0.4, xmax=2.6, ymin=-0.061, ymax=1.32, xtick={1,2}, xticklabels={}, ytick={0,0.5,1}, onedec=y]
\addplot[pt={Igreen}{0.95pt}, opacity=0.8] table[x expr=\thisrow{j}+1, y=bg] {\Ktab};
\addplot[pt={Iblue}{0.95pt}, opacity=0.75] table[x expr=\thisrow{j}+2, y=bb] {\Ktab};
\addplot[bx, Igreen] coordinates {(0.61,0) (1.39,0) (1.39,0.125) (0.61,0.125) (0.61,0)};
\addplot[bx, Igreen] coordinates {(0.61,0.01) (1.39,0.01)};
\addplot[bx, Igreen] coordinates {(1,0.125) (1,0.31)};
\addplot[bx, Iblue!70] coordinates {(1.61,0) (2.39,0) (2.39,0.1) (1.61,0.1) (1.61,0)};
\addplot[bx, Iblue!70] coordinates {(1.61,0.005) (2.39,0.005)};
\addplot[bx, Iblue!70] coordinates {(2,0.1) (2,0.25)};
\end{axis}
\node[font=\fs{24}\bfseries] at (496,193) {K};
\node[font=\fs{12.5}] at (616,198.3) {ER ChIP-seq gained peaks};
\draw[black, line width=0.8pt] (535,189.3) -- (690,189.3);
\node[font=\fs{11}] at (566.7,178.3) {Y537S (n=9)};
\node[font=\fs{11}] at (666.7,178.3) {D538G (n=6)};
\node[font=\fs{4}, text=black!70] at (561.7,165) {Wilcoxon, p = 0.03};
\node[font=\fs{4}, text=black!70] at (660,165) {Wilcoxon, p = 0.16};
\node[font=\fs{11}, rotate=90] at (503.3,93.3) {ER ChIP-seq BETA Score};
\begin{scope}[font=\fs{11}]
\node at (543.3,9.3) {Y537S}; \node at (591.7,9.3) {D538G};
\node at (640.8,9.3) {Y537S}; \node at (689,9.3) {D538G};
\end{scope}
\end{tikzpicture}
\end{document}
